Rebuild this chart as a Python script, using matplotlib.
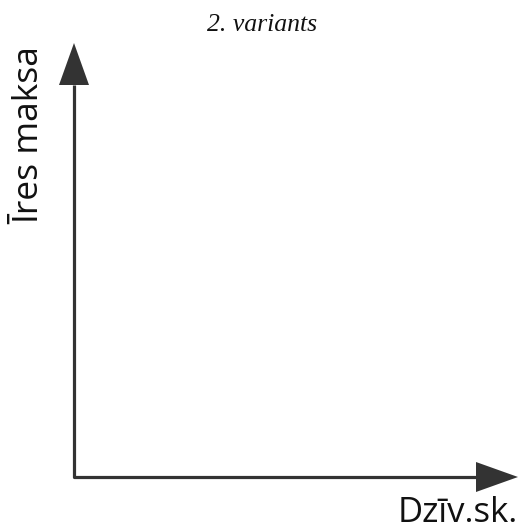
import numpy as np
import matplotlib.pyplot as plt

# layout in pixel units of the picture
origin = [74, 477]
y_tip = [74, 43]
x_tip = [518, 477]
head_len = 42
head_half = 15

title = "2. variants"
xlabel = "Dzīv.sk."
ylabel = "Īres maksa"

col = "#333333"

fig = plt.figure(figsize=(5.24, 5.31), dpi=100)
ax = fig.add_axes([0, 0, 1, 1])
ax.set_xlim(0, 524)
ax.set_ylim(531, 0)
ax.axis("off")

# L shaped axis lines
ax.plot([y_tip[0], origin[0], x_tip[0] - head_len],
        [y_tip[1] + head_len, origin[1], x_tip[1]],
        color=col, lw=2.3, solid_joinstyle="round", solid_capstyle="butt")

# arrow heads
ax.fill([y_tip[0], y_tip[0] - head_half, y_tip[0] + head_half],
        [y_tip[1], y_tip[1] + head_len, y_tip[1] + head_len], color=col, lw=0)
ax.fill([x_tip[0], x_tip[0] - head_len, x_tip[0] - head_len],
        [x_tip[1], x_tip[1] - head_half, x_tip[1] + head_half], color=col, lw=0)

ax.text(262, 25, title, ha="center", va="center", fontsize=18.5,
        family="Liberation Serif", style="italic", color="#111111")
ax.text(518, 522, xlabel, ha="right", va="baseline", fontsize=25,
        family="Open Sans", color="#111111")
ax.text(29, 135, ylabel, ha="center", va="center", fontsize=25.5,
        family="Open Sans", color="#111111", rotation=90)

fig.savefig("out.png", dpi=100)
